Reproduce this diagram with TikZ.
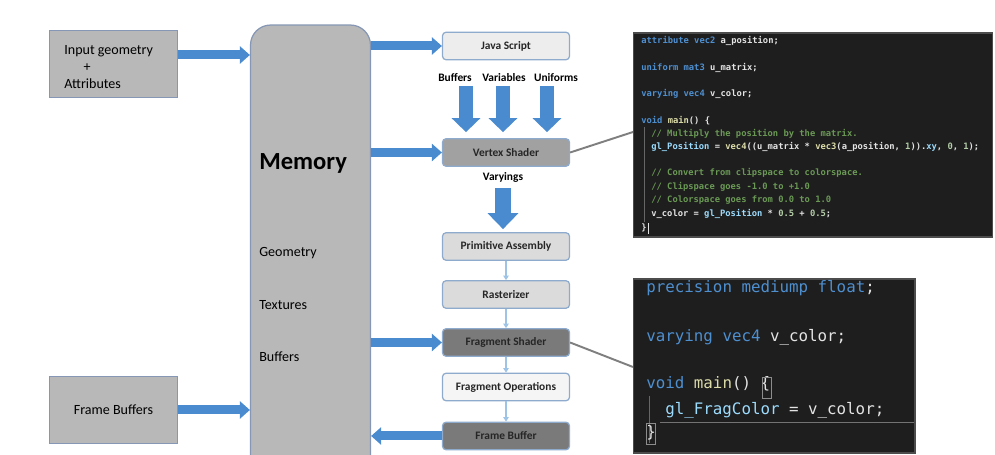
\documentclass[tikz,border=0pt]{standalone}
\usepackage{fontspec}
\setmainfont{Carlito}
\newfontfamily\codefont{DejaVu Sans Mono}
\usepackage{xcolor}
\usetikzlibrary{arrows.meta}

\definecolor{memgray}{HTML}{B8B8B8}
\definecolor{memline}{HTML}{8597B4}
\definecolor{boxline}{HTML}{8EAACC}
\definecolor{arrowblue}{HTML}{4A8BD0}
\definecolor{thinblue}{HTML}{9DC3E6}
\definecolor{calloutgray}{HTML}{7F7F7F}
\definecolor{codebg}{HTML}{1E1E1E}
\definecolor{kwblue}{HTML}{4E8FD0}
\definecolor{fnyellow}{HTML}{DCDCAA}
\definecolor{varblue}{HTML}{9CDCFE}
\definecolor{cmtgreen}{HTML}{6A9955}
\definecolor{numgreen}{HTML}{B5CEA8}
\definecolor{codewhite}{HTML}{E4E4E4}

\newcommand{\kw}[1]{\textcolor{kwblue}{#1}}
\newcommand{\fn}[1]{\textcolor{fnyellow}{#1}}
\newcommand{\vb}[1]{\textcolor{varblue}{#1}}
\newcommand{\cm}[1]{\textcolor{cmtgreen}{#1}}
\newcommand{\nm}[1]{\textcolor{numgreen}{#1}}

\tikzset{
  grayblock/.style={draw=memline, fill=memgray, line width=0.7pt},
  blocklbl/.style={anchor=west, inner sep=0pt, font=\fontsize{8}{9.6}\selectfont},
  stage/.style={draw=boxline, line width=0.7pt, rounded corners=2pt,
    minimum width=2.54cm, minimum height=0.55cm, text=black!85,
    font=\fontsize{6.5}{7}\selectfont\bfseries},
  flowlbl/.style={inner sep=0pt, font=\fontsize{6.5}{7}\selectfont\bfseries},
  fat/.style={draw=arrowblue, line width=0.18cm, -{Triangle[width=0.34cm,length=0.2cm]}},
  fatdown/.style={draw=arrowblue, line width=0.28cm, -{Triangle[width=0.56cm,length=0.28cm]}},
  flowarrow/.style={draw=thinblue, line width=0.6pt, -{Triangle[width=3pt,length=2.5pt]}},
  callout/.style={draw=calloutgray, line width=1.1pt},
  codepanel/.style={draw=black!70, fill=codebg, line width=0.6pt},
  codeline/.style={anchor=west, inner sep=0pt, text=codewhite},
  bracebox/.style={draw=black!45, line width=0.5pt},
}

\begin{document}
\begin{tikzpicture}[x=0.02cm,y=-0.02cm]
\useasboundingbox (0,0) rectangle (995,455);
\clip (0,0) rectangle (995,455);

% Left side: inputs and memory
\node[grayblock, minimum width=2.56cm, minimum height=1.34cm] (geomin) at (113.5,64) {};
\node[blocklbl, align=left] (geomintxt) at (64,67) {Input geometry\\\hspace*{11pt}+\\Attributes};
\node[grayblock, minimum width=2.56cm, minimum height=1.34cm,
  font=\fontsize{8}{9.6}\selectfont] (fbufs) at (113.5,410) {Frame Buffers};
\node[grayblock, rounded corners=0.4cm, minimum width=2.4cm, minimum height=9cm] (mem) at (310.5,250) {};
\node[anchor=west, inner sep=0pt, font=\fontsize{14}{16}\selectfont\bfseries] (memtitle) at (259,163) {Memory};
\node[blocklbl] (geo) at (259,253) {Geometry};
\node[blocklbl] (tex) at (259,305) {Textures};
\node[blocklbl] (buf) at (259,357) {Buffers};

% Pipeline stages
\node[stage, fill=black!7] (js) at (506,46) {Java Script};
\node[stage, fill=black!37] (vs) at (506,152.5) {Vertex Shader};
\node[stage, fill=black!14] (pa) at (506,246.5) {Primitive Assembly};
\node[stage, fill=black!14] (ras) at (506,294.5) {Rasterizer};
\node[stage, fill=black!52] (fs) at (506,342.5) {Fragment Shader};
\node[stage, fill=black!4] (fop) at (506,387) {Fragment Operations};
\node[stage, fill=black!52] (fbuf) at (506,436) {Frame Buffer};

% Labels between stages
\node[flowlbl] (lbuf) at (455,78) {Buffers};
\node[flowlbl] (lvar) at (504,78) {Variables};
\node[flowlbl] (lunif) at (556,78) {Uniforms};
\node[flowlbl] (lvary) at (503,177) {Varyings};

% Fat arrows
\coordinate (inA) at ([yshift=0.18cm]geomin.east);
\draw[fat] (inA) -- (inA -| mem.west);
\draw[fat] (fbufs.east) -- (fbufs.east -| mem.west);
\draw[fat] (mem.east |- js.west) -- (js.west);
\draw[fat] (mem.east |- vs.west) -- (vs.west);
\draw[fat] (mem.east |- fs.west) -- (fs.west);
\draw[fat] (fbuf.west) -- (fbuf.west -| mem.east);

\coordinate (dA) at (466,86);
\coordinate (dB) at (503,86);
\coordinate (dC) at (547,86);
\foreach \c in {dA,dB,dC}{
  \draw[fatdown, shorten >=0.12cm] (\c) -- (\c |- vs.north);
}
\draw[fatdown, line width=0.32cm, -{Triangle[width=0.6cm,length=0.32cm]}, shorten >=0.06cm]
  (lvary.south) ++(0,-0.12cm) coordinate (vy) -- (vy |- pa.north);

% Thin arrows down the pipeline
\foreach \a/\b in {pa/ras, ras/fs, fs/fop, fop/fbuf}{
  \draw[flowarrow] (\a.south) -- (\b.north);
}

% Code panels
\draw[callout] (vs.east) -- (633,132);
\draw[callout] (fs.east) -- (633,367);
\node[codepanel, minimum width=7.2cm, minimum height=4.08cm] (code1) at (813,135) {};
\node[codepanel, minimum width=5.64cm, minimum height=3.48cm] (code2) at (774,366) {};
\draw[black!60, line width=0.3pt] (644,127) -- (644,222);
\draw[black!60, line width=0.3pt] (649,396) -- (649,443);
\draw[black!55, line width=0.3pt] (660,422) -- (914,422);

\begin{scope}[font=\codefont\bfseries\fontsize{5}{6}\selectfont]
  \node[codeline] (v1) at (641,41) {\kw{attribute vec2} a\_position;};
  \node[codeline] (v2) at (641,68) {\kw{uniform mat3} u\_matrix;};
  \node[codeline] (v3) at (641,94) {\kw{varying vec4} v\_color;};
  \node[codeline] (v4) at (641,121) {\kw{void} \fn{main}() \{};
  \node[codeline] (v5) at (651,134) {\cm{// Multiply the position by the matrix.}};
  \node[codeline] (v6) at (651,147) {\vb{gl\_Position} = \fn{vec4}((u\_matrix * \fn{vec3}(a\_position, \nm{1})).\vb{xy}, \nm{0}, \nm{1});};
  \node[codeline] (v7) at (651,173) {\cm{// Convert from clipspace to colorspace.}};
  \node[codeline] (v8) at (651,187) {\cm{// Clipspace goes -1.0 to +1.0}};
  \node[codeline] (v9) at (651,200) {\cm{// Colorspace goes from 0.0 to 1.0}};
  \node[codeline] (v10) at (651,214) {v\_color = \vb{gl\_Position} * \nm{0.5} + \nm{0.5};};
  \node[codeline] (v11) at (641,228) {\}};
\end{scope}
\draw[codewhite, line width=0.5pt] (v11.east) ++(0.03cm,0.1cm) -- ++(0,-0.22cm);

\begin{scope}[font=\codefont\fontsize{9}{10}\selectfont]
  \node[codeline] (f1) at (646,288) {\kw{precision mediump float};};
  \node[codeline] (f2) at (646,337) {\kw{varying vec4} v\_color;};
  \node[codeline] (f3) at (646,384) {\kw{void} \fn{main}() \{};
  \node[codeline] (f4) at (665,410) {\vb{gl\_FragColor} = v\_color;};
  \node[codeline] (f5) at (646,433) {\}};
\end{scope}
\draw[bracebox] (762,377) rectangle (771,398);
\draw[bracebox] (646,423) rectangle (655,444);
\end{tikzpicture}
\end{document}
